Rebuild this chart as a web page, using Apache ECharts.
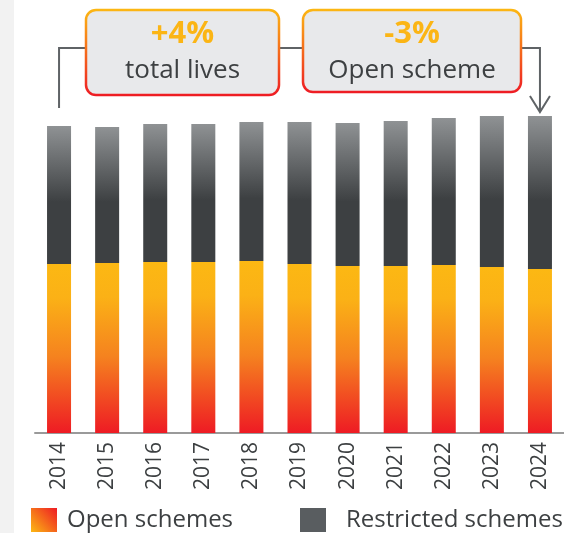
<!DOCTYPE html>
<html>
<head>
<meta charset="utf-8">
<script src="https://cdn.jsdelivr.net/npm/echarts@6/dist/echarts.min.js"></script>
<style>
  html, body { margin: 0; padding: 0; background: #fff; }
  #chart { width: 564px; height: 533px; }
</style>
</head>
<body>
<div id="chart"></div>
<script>
// values (arbitrary units, same scale for both series)
const years = ['2014', '2015', '2016', '2017', '2018', '2019', '2020', '2021', '2022', '2023', '2024']
const openSchemes = [169, 170, 171, 171, 172, 169, 167, 167, 168, 166, 164]
const restrictedSchemes = [138, 136, 138, 138, 139, 142, 143, 145, 147, 151, 153]
const notes = [
  { big: '+4%', small: 'total lives' },
  { big: '-3%', small: 'Open scheme' },
]

const FONT = '"Open Sans", "Noto Sans", sans-serif'
const DARK = '#3d4042'
const LINE = '#5f6366'

const chart = echarts.init(document.getElementById('chart'))

const openGrad = new echarts.graphic.LinearGradient(0, 0, 0, 1, [
  { offset: 0, color: '#fcb813' },
  { offset: 0.2, color: '#fbb116' },
  { offset: 0.55, color: '#f5821f' },
  { offset: 1, color: '#ee1b24' },
])
const greyGrad = new echarts.graphic.LinearGradient(0, 0, 0, 1, [
  { offset: 0, color: '#8f9294' },
  { offset: 0.55, color: '#3d4042' },
  { offset: 1, color: '#3d4042' },
])

chart.setOption({
  animation: false,
  grid: { left: 35, right: 0, top: 33, bottom: 100 },
  legend: [
    {
      left: 26, top: 503,
      icon: 'rect', itemWidth: 26, itemHeight: 24, itemGap: 0,
      textStyle: { fontFamily: FONT, fontSize: 24, color: DARK, padding: [0, 0, 0, 5] },
      data: [{
        name: 'Open schemes',
        itemStyle: {
          color: new echarts.graphic.LinearGradient(0, 1, 1, 0, [
            { offset: 0, color: '#fcb813' },
            { offset: 1, color: '#ee1b24' },
          ]),
        },
      }],
    },
    {
      left: 295, top: 503,
      icon: 'rect', itemWidth: 26, itemHeight: 24, itemGap: 0,
      textStyle: { fontFamily: FONT, fontSize: 24, color: DARK, padding: [0, 0, 0, 15] },
      data: [{ name: 'Restricted schemes', itemStyle: { color: '#595d60' } }],
    },
  ],
  xAxis: {
    type: 'category',
    data: years,
    axisLine: { lineStyle: { color: '#9a9a9a', width: 2 } },
    axisTick: { show: false },
    axisLabel: { rotate: 90, margin: 9, fontFamily: FONT, fontSize: 21, color: DARK },
  },
  yAxis: {
    type: 'value', min: 0, max: 400,
    show: false,
    splitLine: { show: false },
  },
  series: [
    {
      name: 'Open schemes', type: 'bar', stack: 'lives',
      barWidth: 24,
      itemStyle: { color: openGrad },
      data: openSchemes,
    },
    {
      name: 'Restricted schemes', type: 'bar', stack: 'lives',
      barWidth: 24,
      itemStyle: { color: greyGrad },
      data: restrictedSchemes,
    },
  ],
})

// annotation boxes and connector, placed off the first and last bar
const xFirst = chart.convertToPixel({ xAxisIndex: 0 }, years[0])
const xLast = chart.convertToPixel({ xAxisIndex: 0 }, years[years.length - 1])
const boxes = [
  { x: 86, y: 10, w: 193, h: 85 },
  { x: 303, y: 10, w: 218, h: 82 },
]
const lineY = 48
const borderGrad = new echarts.graphic.LinearGradient(0, 0, 0, 1, [
  { offset: 0, color: '#fcb813' },
  { offset: 1, color: '#ee1b24' },
])

const graphic = [
  { type: 'rect', left: 0, top: 0, shape: { width: 14, height: 533 }, style: { fill: '#f2f2f2' }, silent: true },
  {
    type: 'polyline',
    shape: { points: [[xFirst, 108], [xFirst, lineY], [boxes[0].x, lineY]] },
    style: { stroke: LINE, lineWidth: 2, fill: null },
  },
  {
    type: 'line',
    shape: { x1: boxes[0].x + boxes[0].w, y1: lineY, x2: boxes[1].x, y2: lineY },
    style: { stroke: LINE, lineWidth: 2 },
  },
  {
    type: 'polyline',
    shape: { points: [[boxes[1].x + boxes[1].w, lineY], [xLast, lineY], [xLast, 112]] },
    style: { stroke: LINE, lineWidth: 2, fill: null },
  },
  {
    type: 'polyline',
    shape: { points: [[xLast - 10, 96], [xLast, 112], [xLast + 10, 96]] },
    style: { stroke: LINE, lineWidth: 2, fill: null },
  },
]
boxes.forEach((b, i) => {
  graphic.push({
    type: 'rect',
    shape: { x: b.x, y: b.y, width: b.w, height: b.h, r: 10 },
    style: { fill: '#e8e9eb', stroke: borderGrad, lineWidth: 2.5 },
  })
  graphic.push({
    type: 'text',
    x: b.x + b.w / 2, y: 34,
    style: {
      text: notes[i].big, fill: '#fbb515', font: 'bold 31px ' + FONT,
      align: 'center', verticalAlign: 'middle',
    },
  })
  graphic.push({
    type: 'text',
    x: b.x + b.w / 2, y: 71,
    style: {
      text: notes[i].small, fill: DARK, font: '26px ' + FONT,
      align: 'center', verticalAlign: 'middle',
    },
  })
})
chart.setOption({ graphic })
</script>
</body>
</html>
